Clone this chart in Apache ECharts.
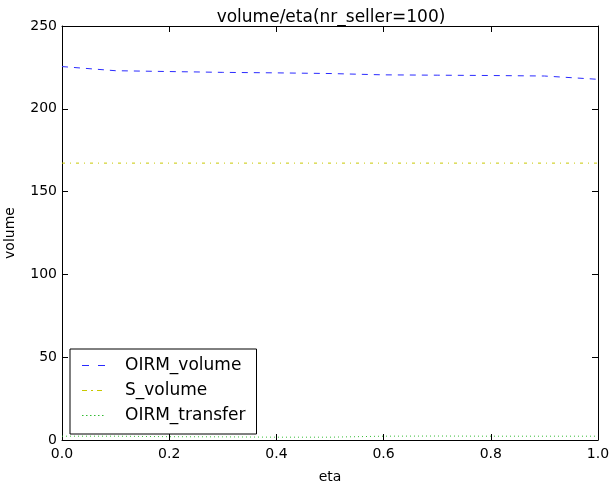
<!DOCTYPE html>
<html><head><meta charset="utf-8">
<script src="https://cdn.jsdelivr.net/npm/echarts@6/dist/echarts.min.js"></script>
<style>html,body{margin:0;padding:0;background:#fff}#c{width:609px;height:482px}</style>
</head><body><div id="c"></div>
<script>
const eta = [0.0, 0.1, 0.2, 0.3, 0.4, 0.5, 0.6, 0.7, 0.8, 0.9, 1.0];
const oirmVolume = [225.5, 223, 222.5, 222, 221.7, 221.3, 220.5, 220.3, 220.1, 219.8, 217.8];
const sVolume = [167.2, 167.2, 167.2, 167.2, 167.2, 167.2, 167.2, 167.2, 167.2, 167.2, 167.2];
const oirmTransfer = [2.3, 2.3, 2.0, 1.9, 1.7, 1.7, 2.3, 2.4, 2.3, 2.3, 2.3];
const xTicks = [0, 0.2, 0.4, 0.6, 0.8, 1.0];
const yTicks = [0, 50, 100, 150, 200, 250];
const seriesNames = ['OIRM_volume', 'S_volume', 'OIRM_transfer'];

const font = 'DejaVu Sans';
const colors = ['#2a2aff', '#c8c800', '#33bb33'];
const pair = (ys) => eta.map((x, i) => [x, ys[i]]);
const chart = echarts.init(document.getElementById('c'), null, {renderer: 'canvas'});
const axisCommon = {
  axisLine: {show: true, onZero: false, lineStyle: {color: '#000', width: 1}},
  axisTick: {show: true, inside: true, length: 6, lineStyle: {color: '#000'}},
  splitLine: {show: false}
};
const icons = [
  'path://M0,0H7V1H0Z M16,0H23V1H16Z',
  'path://M0,0H5V1H0Z M9,0H11V1H9Z M15,0H20V1H15Z M23,0V1Z',
  'path://M0,0H1.5V1H0Z M4,0H5.5V1H4Z M8,0H9.5V1H8Z M12,0H13.5V1H12Z M16,0H17.5V1H16Z M20,0H21.5V1H20Z M23,0V1Z'
];
chart.setOption({
  animation: false,
  title: {text: 'volume/eta(nr_seller=100)', left: 326, top: 4, textAlign: 'center',
    textStyle: {fontFamily: font, fontSize: 17, fontWeight: 'normal', color: '#000'}},
  grid: {left: 62, right: 11, top: 26, bottom: 42, containLabel: false, outerBoundsMode: 'none'},
  legend: {
    orient: 'vertical', left: 70, top: 349,
    padding: [8, 11, 10, 12],
    borderColor: '#000', borderWidth: 1, backgroundColor: '#fff', borderRadius: 0,
    itemWidth: 23, itemHeight: 2, itemGap: 8,
    lineStyle: {width: 0, opacity: 0},
    textStyle: {fontFamily: font, fontSize: 17, color: '#000', padding: [0, 0, 0, 15]},
    data: seriesNames.map((n, i) => ({name: n, icon: icons[i],
      itemStyle: {color: colors[i], borderWidth: 0, borderColor: colors[i], opacity: 1}}))
  },
  xAxis: [
    Object.assign({type: 'value', min: 0, max: 1, interval: 0.2, position: 'bottom',
      name: 'eta', nameLocation: 'middle', nameGap: 30,
      nameTextStyle: {fontFamily: font, fontSize: 14, color: '#000'},
      axisLabel: {fontFamily: font, fontSize: 14, color: '#000', margin: 7,
        formatter: v => xTicks.includes(+v.toFixed(1)) ? v.toFixed(1) : ''}}, axisCommon),
    Object.assign({type: 'value', min: 0, max: 1, interval: 0.2, position: 'top',
      axisLabel: {show: false}}, axisCommon)
  ],
  yAxis: [
    Object.assign({type: 'value', min: 0, max: 250, interval: 50, position: 'left',
      name: 'volume', nameLocation: 'middle', nameGap: 45, nameRotate: 90,
      nameTextStyle: {fontFamily: font, fontSize: 14, color: '#000'},
      axisLabel: {fontFamily: font, fontSize: 14, color: '#000', margin: 5,
        formatter: v => yTicks.includes(v) ? String(v) : ''}}, axisCommon),
    Object.assign({type: 'value', min: 0, max: 250, interval: 50, position: 'right',
      axisLabel: {show: false}}, axisCommon)
  ],
  series: [
    {name: seriesNames[0], type: 'line', data: pair(oirmVolume), showSymbol: false, symbol: 'none',
      lineStyle: {color: colors[0], width: 1, type: [6, 6]}, itemStyle: {color: colors[0]}},
    {name: seriesNames[1], type: 'line', data: pair(sVolume), showSymbol: false, symbol: 'none',
      lineStyle: {color: colors[1], width: 1, type: [3, 5, 1, 5]}, itemStyle: {color: colors[1]}},
    {name: seriesNames[2], type: 'line', data: pair(oirmTransfer), showSymbol: false, symbol: 'none',
      lineStyle: {color: colors[2], width: 1, type: [1, 3]}, itemStyle: {color: colors[2]}}
  ]
});
</script></body></html>
